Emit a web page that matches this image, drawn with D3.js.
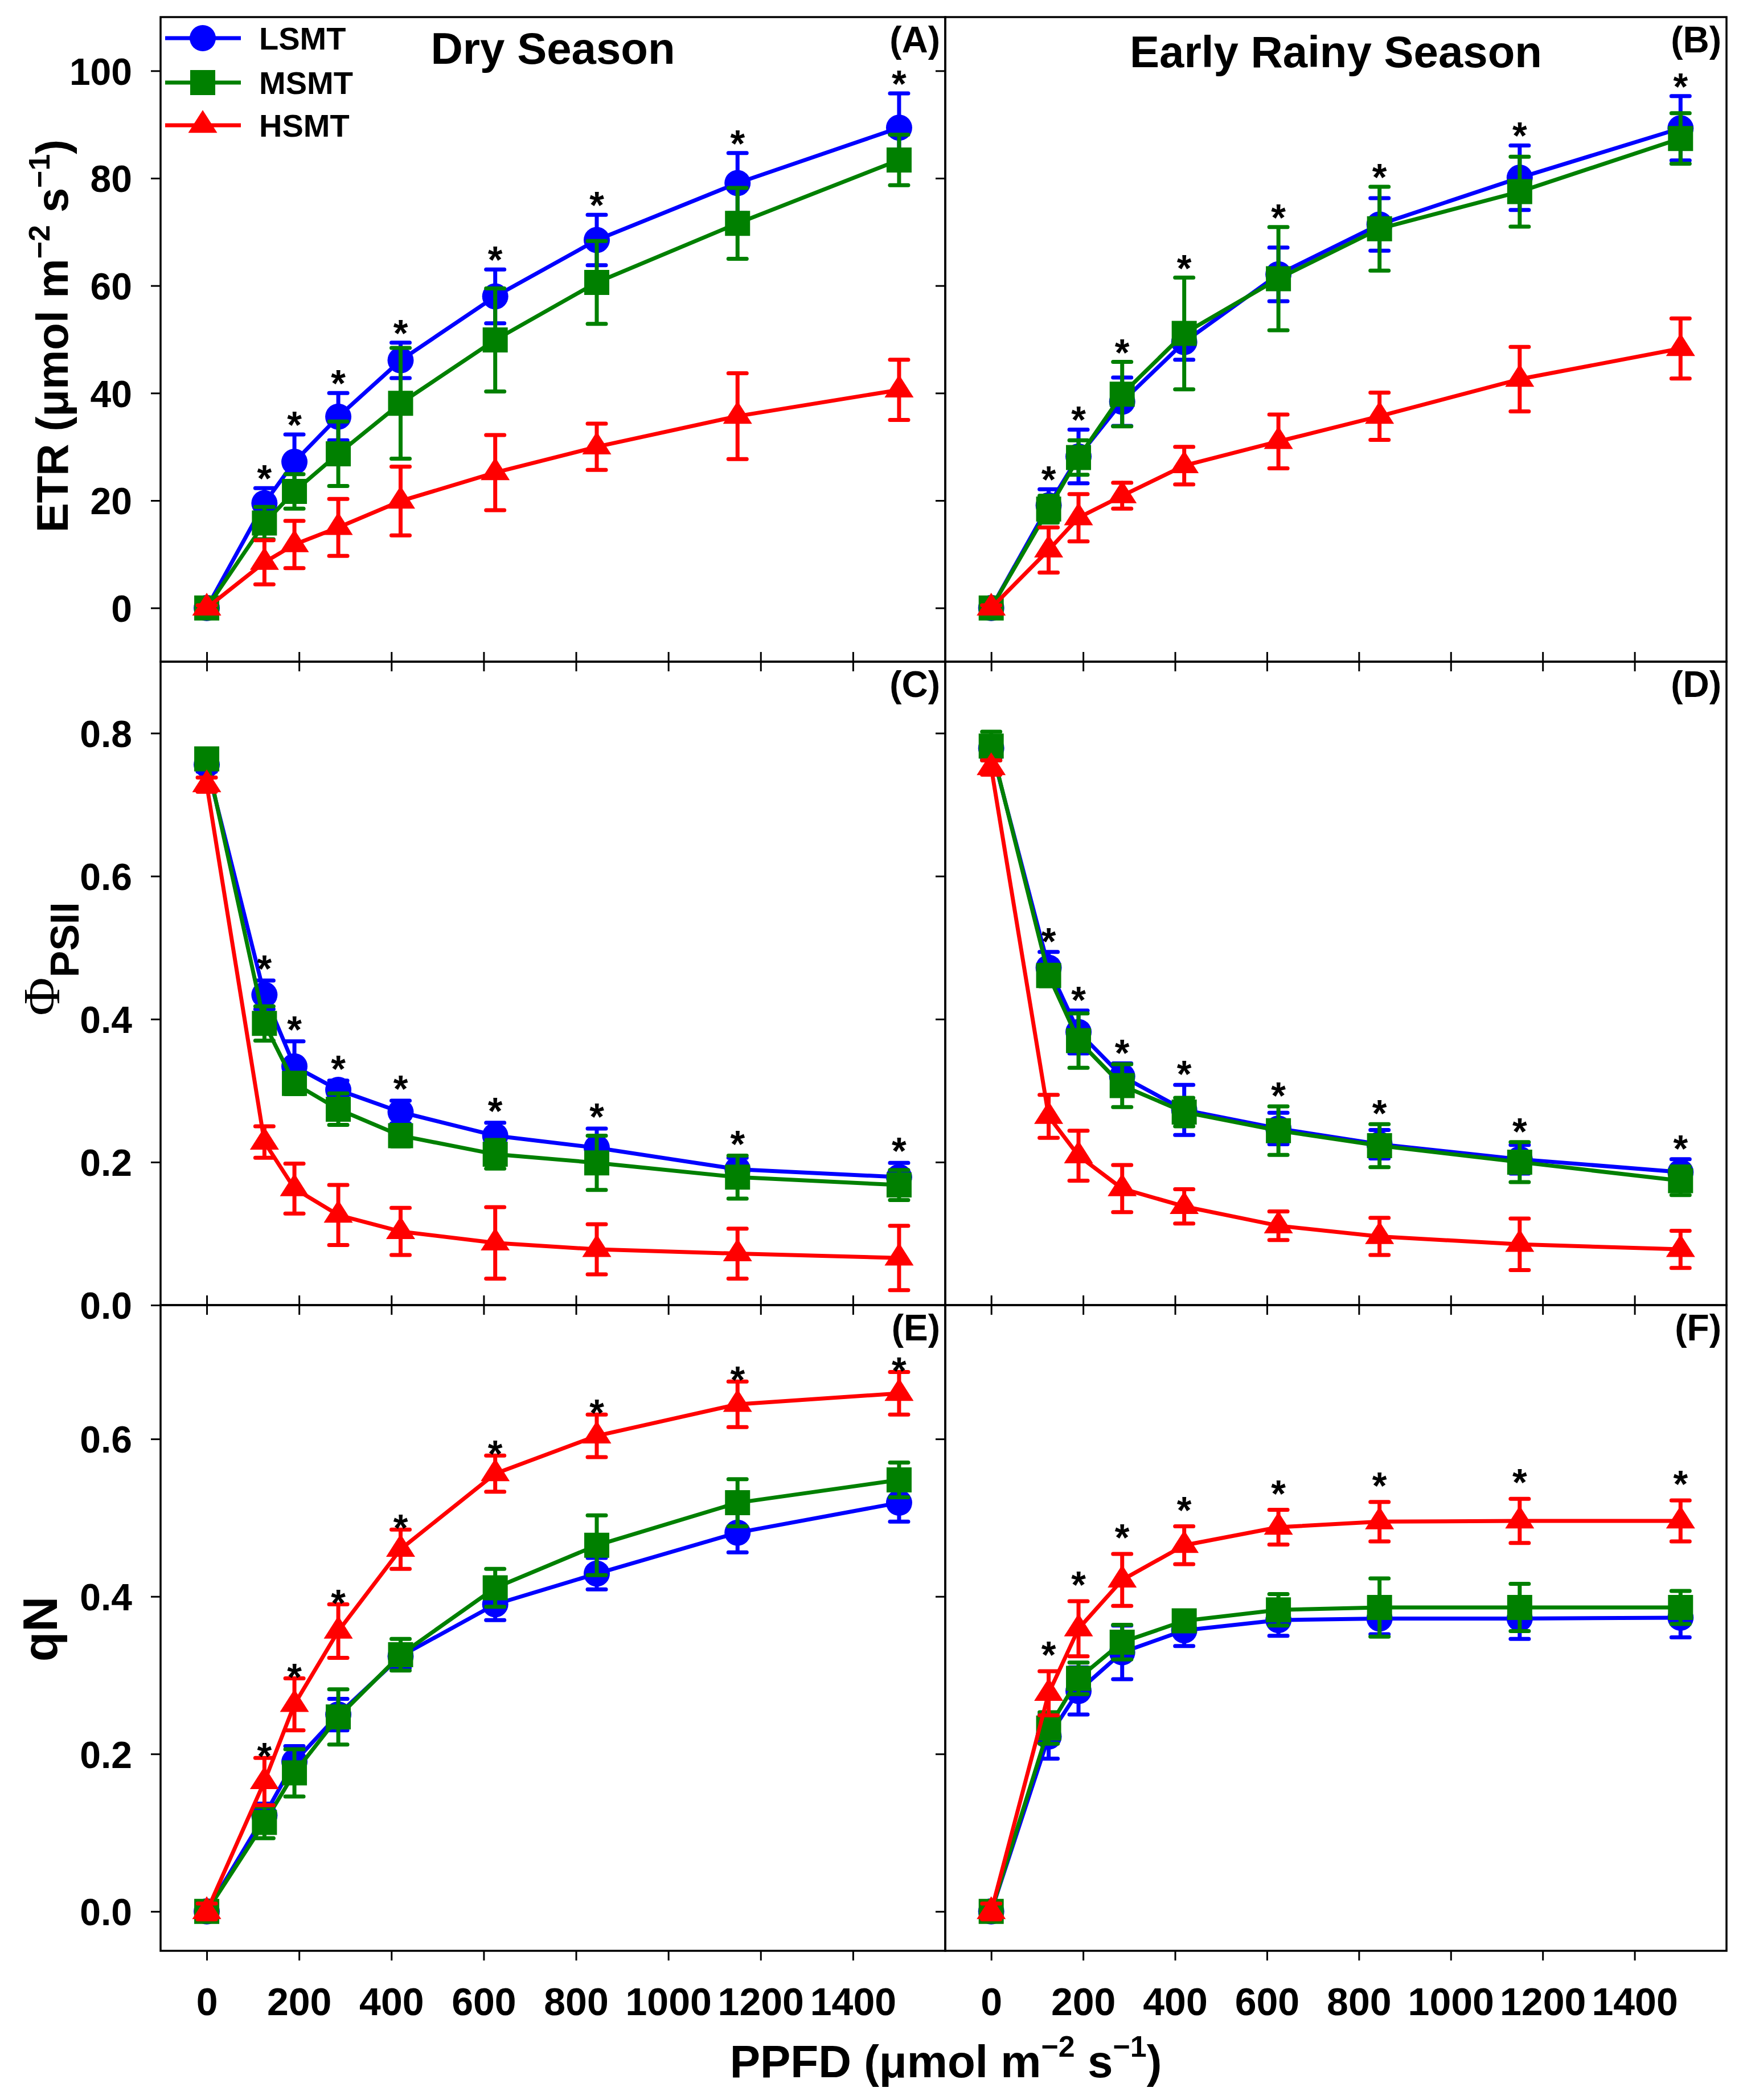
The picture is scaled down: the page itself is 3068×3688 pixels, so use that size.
<!DOCTYPE html>
<html><head><meta charset="utf-8">
<script src="https://cdn.jsdelivr.net/npm/d3@7"></script>
<style>body{margin:0;background:#fff} svg{display:block}</style>
</head><body><svg id="chart" width="3068" height="3688"></svg>
<script>
// ---------------- DATA ----------------
const ppfd = [0, 125, 190, 285, 420, 625, 845, 1150, 1500];
const seriesNames = ["LSMT", "MSMT", "HSMT"];
const xTicks = [0, 200, 400, 600, 800, 1000, 1200, 1400];
const etrTicks = [0, 20, 40, 60, 80, 100];
const phiTicks = [0.0, 0.2, 0.4, 0.6, 0.8];
const qnTicks = [0.0, 0.2, 0.4, 0.6];
const panelTitles = ["Dry Season", "Early Rainy Season"];
const panelTags = ["(A)", "(B)", "(C)", "(D)", "(E)", "(F)"];

// (A) ETR, dry season
const etrDryL = [0, 19.5, 27.2, 35.6, 46.1, 58.0, 68.5, 79.1, 89.4];
const etrDryLErr = [0.5, 2.8, 5.1, 4.4, 3.3, 5.0, 4.7, 5.6, 6.4];
const etrDryM = [0, 15.8, 21.7, 28.7, 38.1, 49.9, 60.6, 71.6, 83.4];
const etrDryMErr = [0.5, 3.0, 3.2, 6.0, 10.3, 9.6, 7.7, 6.6, 4.7];
const etrDryH = [0, 8.5, 11.8, 15.0, 19.9, 25.2, 30.0, 35.7, 40.6];
const etrDryHErr = [0.5, 4.1, 4.4, 5.3, 6.4, 7.0, 4.3, 8.0, 5.6];
// (B) ETR, early rainy season
const etrWetL = [0, 19.1, 28.2, 38.4, 49.5, 62.1, 71.4, 80.1, 89.3];
const etrWetLErr = [0.5, 3.0, 5.0, 4.5, 3.3, 5.0, 4.9, 6.0, 6.0];
const etrWetM = [0, 18.4, 28.0, 39.8, 51.1, 61.3, 70.6, 77.5, 87.4];
const etrWetMErr = [0.5, 2.5, 3.2, 6.0, 10.4, 9.6, 7.8, 6.5, 4.7];
const etrWetH = [0, 10.8, 16.8, 20.9, 26.5, 31.0, 35.7, 42.6, 48.3];
const etrWetHErr = [0.5, 4.2, 4.4, 2.4, 3.5, 5.0, 4.4, 6.0, 5.6];
// (C) PhiPSII, dry season
const phiDryL = [0.756, 0.434, 0.334, 0.301, 0.270, 0.237, 0.220, 0.190, 0.179];
const phiDryLErr = [0.010, 0.020, 0.035, 0.013, 0.016, 0.018, 0.027, 0.016, 0.020];
const phiDryM = [0.764, 0.394, 0.310, 0.274, 0.237, 0.211, 0.199, 0.179, 0.168];
const phiDryMErr = [0.010, 0.024, 0.015, 0.022, 0.015, 0.020, 0.038, 0.030, 0.021];
const phiDryH = [0.728, 0.228, 0.163, 0.126, 0.103, 0.087, 0.078, 0.072, 0.066];
const phiDryHErr = [0.010, 0.022, 0.035, 0.042, 0.033, 0.050, 0.035, 0.035, 0.045];
// (D) PhiPSII, early rainy season
const phiWetL = [0.779, 0.472, 0.382, 0.320, 0.273, 0.247, 0.225, 0.204, 0.186];
const phiWetLErr = [0.015, 0.022, 0.030, 0.018, 0.035, 0.022, 0.020, 0.020, 0.018];
const phiWetM = [0.782, 0.461, 0.370, 0.307, 0.270, 0.244, 0.223, 0.200, 0.174];
const phiWetMErr = [0.020, 0.015, 0.038, 0.030, 0.020, 0.034, 0.030, 0.028, 0.020];
const phiWetH = [0.752, 0.264, 0.209, 0.163, 0.138, 0.111, 0.096, 0.085, 0.078];
const phiWetHErr = [0.010, 0.030, 0.035, 0.033, 0.024, 0.020, 0.026, 0.036, 0.026];
// (E) qN, dry season
const qnDryL = [0, 0.122, 0.190, 0.250, 0.324, 0.390, 0.429, 0.481, 0.519];
const qnDryLErr = [0.010, 0.015, 0.020, 0.020, 0.015, 0.020, 0.020, 0.025, 0.024];
const qnDryM = [0, 0.113, 0.176, 0.247, 0.326, 0.411, 0.465, 0.519, 0.548];
const qnDryMErr = [0.010, 0.020, 0.030, 0.035, 0.020, 0.024, 0.038, 0.030, 0.022];
const qnDryH = [0, 0.165, 0.263, 0.356, 0.460, 0.556, 0.604, 0.644, 0.658];
const qnDryHErr = [0.010, 0.030, 0.033, 0.034, 0.025, 0.023, 0.027, 0.029, 0.027];
// (F) qN, early rainy season
const qnWetL = [0, 0.222, 0.280, 0.329, 0.357, 0.370, 0.372, 0.372, 0.373];
const qnWetLErr = [0.010, 0.028, 0.030, 0.034, 0.020, 0.020, 0.020, 0.026, 0.025];
const qnWetM = [0, 0.233, 0.296, 0.342, 0.369, 0.383, 0.386, 0.386, 0.386];
const qnWetMErr = [0.010, 0.020, 0.020, 0.022, 0.010, 0.020, 0.037, 0.030, 0.021];
const qnWetH = [0, 0.277, 0.359, 0.421, 0.465, 0.488, 0.495, 0.496, 0.496];
const qnWetHErr = [0.010, 0.028, 0.035, 0.033, 0.024, 0.022, 0.025, 0.028, 0.026];
// significance markers (*) per light level
const sigFlags = [0, 1, 1, 1, 1, 1, 1, 1, 1];

// ---------------- LAYOUT / STYLE ----------------
const FONT = "'Liberation Sans', Arial, Helvetica, sans-serif";
const svg = d3.select("#chart");
svg.append("rect").attr("width", 3068).attr("height", 3688).attr("fill", "#fff");
const colX = [[282, 1660], [1660, 3032]];
const rowY = [[30, 1162], [1162, 2292], [2292, 3426]];
const colors = ["#0000ff", "#008000", "#ff0000"];
// flattened up-pointing triangle (51 wide, 40 tall), centred on its centroid
const triangleWide = {
  draw(ctx) {
    const w = 25.5, h = 40;
    ctx.moveTo(0, -h * 2 / 3);
    ctx.lineTo(w, h / 3);
    ctx.lineTo(-w, h / 3);
    ctx.closePath();
  }
};
const shapes = [d3.symbolCircle, d3.symbolSquare, triangleWide];
const sizes = [Math.PI * 23 * 23, 44 * 44, 1];
const starGap = [6, 6, 2, 4, 20, -6];
const TICK = 17;
const LW = 7;

const panels = [
  {col: 0, row: 0, dom: [-10, 110], ticks: etrTicks, fmt: d3.format("d"),
   vals: [etrDryL, etrDryM, etrDryH], errs: [etrDryLErr, etrDryMErr, etrDryHErr]},
  {col: 1, row: 0, dom: [-10, 110], ticks: etrTicks, fmt: d3.format("d"),
   vals: [etrWetL, etrWetM, etrWetH], errs: [etrWetLErr, etrWetMErr, etrWetHErr]},
  {col: 0, row: 1, dom: [0, 0.9], ticks: phiTicks, fmt: d3.format(".1f"),
   vals: [phiDryL, phiDryM, phiDryH], errs: [phiDryLErr, phiDryMErr, phiDryHErr]},
  {col: 1, row: 1, dom: [0, 0.9], ticks: phiTicks, fmt: d3.format(".1f"),
   vals: [phiWetL, phiWetM, phiWetH], errs: [phiWetLErr, phiWetMErr, phiWetHErr]},
  {col: 0, row: 2, dom: [-0.05, 0.77], ticks: qnTicks, fmt: d3.format(".1f"),
   vals: [qnDryL, qnDryM, qnDryH], errs: [qnDryLErr, qnDryMErr, qnDryHErr]},
  {col: 1, row: 2, dom: [-0.05, 0.77], ticks: qnTicks, fmt: d3.format(".1f"),
   vals: [qnWetL, qnWetM, qnWetH], errs: [qnWetLErr, qnWetMErr, qnWetHErr]}
];

panels.forEach((p, pi) => {
  const [x0, x1] = colX[p.col];
  const [y0, y1] = rowY[p.row];
  const x = d3.scaleLinear().domain([-100, 1600]).range([x0, x1]);
  const y = d3.scaleLinear().domain(p.dom).range([y1, y0]);
  const g = svg.append("g");

  // left ticks (outward)
  const ya = g.append("g").attr("transform", `translate(${x0},0)`)
    .call(d3.axisLeft(y).tickValues(p.ticks).tickSize(TICK).tickPadding(32)
      .tickFormat(p.col === 0 ? p.fmt : () => ""));
  ya.select(".domain").remove();
  ya.selectAll("line").attr("stroke", "#000").attr("stroke-width", 3);
  ya.selectAll("text").attr("font-family", FONT).attr("font-weight", "bold")
    .attr("font-size", 66).attr("fill", "#000").attr("x", -50).attr("dy", "0.36em");

  // bottom ticks (outward)
  const xa = g.append("g").attr("transform", `translate(0,${y1})`)
    .call(d3.axisBottom(x).tickValues(xTicks).tickSize(TICK)
      .tickFormat(p.row === 2 ? d3.format("d") : () => ""));
  xa.select(".domain").remove();
  xa.selectAll("line").attr("stroke", "#000").attr("stroke-width", 3);
  xa.selectAll("text").attr("font-family", FONT).attr("font-weight", "bold")
    .attr("font-size", 68).attr("fill", "#000").attr("y", 3539 - y1).attr("dy", null);

  // top ticks for lower rows
  if (p.row > 0) {
    const ta = g.append("g").attr("transform", `translate(0,${y0})`)
      .call(d3.axisTop(x).tickValues(xTicks).tickSize(TICK).tickFormat(() => ""));
    ta.select(".domain").remove();
    ta.selectAll("line").attr("stroke", "#000").attr("stroke-width", 3);
  }

  // series
  const line = d3.line().x(d => x(d.x)).y(d => y(d.v));
  seriesNames.forEach((name, si) => {
    const pts = ppfd.map((px, j) => ({x: px, v: p.vals[si][j], e: p.errs[si][j]}));
    const sg = g.append("g");
    sg.append("path").datum(pts).attr("d", line).attr("fill", "none")
      .attr("stroke", colors[si]).attr("stroke-width", LW).attr("stroke-linejoin", "round");
    const eb = sg.selectAll(".eb").data(pts).enter().append("g");
    eb.append("line").attr("x1", d => x(d.x)).attr("x2", d => x(d.x))
      .attr("y1", d => y(d.v - d.e)).attr("y2", d => y(d.v + d.e))
      .attr("stroke", colors[si]).attr("stroke-width", LW);
    [-1, 1].forEach(s => {
      eb.append("line").attr("x1", d => x(d.x) - 16).attr("x2", d => x(d.x) + 16)
        .attr("y1", d => y(d.v + s * d.e)).attr("y2", d => y(d.v + s * d.e))
        .attr("stroke", colors[si]).attr("stroke-width", LW).attr("stroke-linecap", "round");
    });
    sg.selectAll(".mk").data(pts).enter().append("path")
      .attr("d", d3.symbol().type(shapes[si]).size(sizes[si]))
      .attr("transform", d => `translate(${x(d.x)},${y(d.v)})`)
      .attr("fill", colors[si]);
  });

  // significance stars
  ppfd.forEach((px, j) => {
    if (!sigFlags[j]) return;
    const top = d3.max(p.vals.map((v, si) => v[j] + p.errs[si][j]));
    g.append("text").attr("x", x(px)).attr("y", y(top) + starGap[pi])
      .attr("text-anchor", "middle").attr("font-family", FONT).attr("font-weight", "bold")
      .attr("font-size", 66).attr("fill", "#000").text("*");
  });

  // frame
  g.append("rect").attr("x", x0).attr("y", y0).attr("width", x1 - x0).attr("height", y1 - y0)
    .attr("fill", "none").attr("stroke", "#000").attr("stroke-width", 3.5);

  // panel tag
  g.append("text").attr("x", x1 - 9).attr("y", y0 + 62).attr("text-anchor", "end")
    .attr("font-family", FONT).attr("font-weight", "bold").attr("font-size", 64)
    .attr("fill", "#000").text(panelTags[pi]);

  // season title
  if (p.row === 0) {
    g.append("text").attr("x", (x0 + x1) / 2).attr("y", p.col === 0 ? 112 : 118)
      .attr("text-anchor", "middle").attr("font-family", FONT).attr("font-weight", "bold")
      .attr("font-size", 78).attr("fill", "#000").text(panelTitles[p.col]);
  }
});

// legend in panel A
const lg = svg.append("g");
const legY = [67, 145, 220];
seriesNames.forEach((name, si) => {
  lg.append("line").attr("x1", 290).attr("x2", 423).attr("y1", legY[si]).attr("y2", legY[si])
    .attr("stroke", colors[si]).attr("stroke-width", LW);
  lg.append("path").attr("d", d3.symbol().type(shapes[si]).size(sizes[si])())
    .attr("transform", `translate(356,${legY[si]})`).attr("fill", colors[si]);
  lg.append("text").attr("x", 455).attr("y", legY[si]).attr("dy", "0.36em")
    .attr("font-family", FONT).attr("font-weight", "bold").attr("font-size", 56)
    .attr("fill", "#000").text(name);
});

// axis titles
function supTitle(g, parts) {
  const t = g.append("text").attr("text-anchor", "middle").attr("font-family", FONT)
    .attr("font-weight", "bold").attr("fill", "#000");
  parts.forEach(pt => {
    t.append("tspan").attr("font-size", pt.s).attr("dy", pt.dy || 0).text(pt.t);
  });
  return t;
}
// ETR
supTitle(svg.append("g").attr("transform", "translate(119,590) rotate(-90)"), [
  {t: "ETR (\u03bcmol m", s: 78}, {t: "\u22122", s: 52, dy: -32}, {t: " s", s: 78, dy: 32},
  {t: "\u22121", s: 52, dy: -32}, {t: ")", s: 78, dy: 32}
]);
// Phi PSII
{
  const t = svg.append("g").attr("transform", "translate(104,1684) rotate(-90)")
    .append("text").attr("text-anchor", "middle").attr("fill", "#000");
  t.append("tspan").attr("font-family", "'Liberation Serif', 'Times New Roman', serif")
    .attr("font-size", 92).text("\u03a6");
  t.append("tspan").attr("font-family", FONT).attr("font-weight", "bold")
    .attr("font-size", 70).attr("dy", 34).text("PSII");
}
// qN
svg.append("g").attr("transform", "translate(100,2861) rotate(-90)")
  .append("text").attr("text-anchor", "middle").attr("font-family", FONT)
  .attr("font-weight", "bold").attr("font-size", 86).attr("fill", "#000").text("qN");
// PPFD
supTitle(svg.append("g").attr("transform", "translate(1661,3648)"), [
  {t: "PPFD (\u03bcmol m", s: 80}, {t: "\u22122", s: 52, dy: -36}, {t: " s", s: 80, dy: 36},
  {t: "\u22121", s: 52, dy: -36}, {t: ")", s: 80, dy: 36}
]);
</script></body></html>
